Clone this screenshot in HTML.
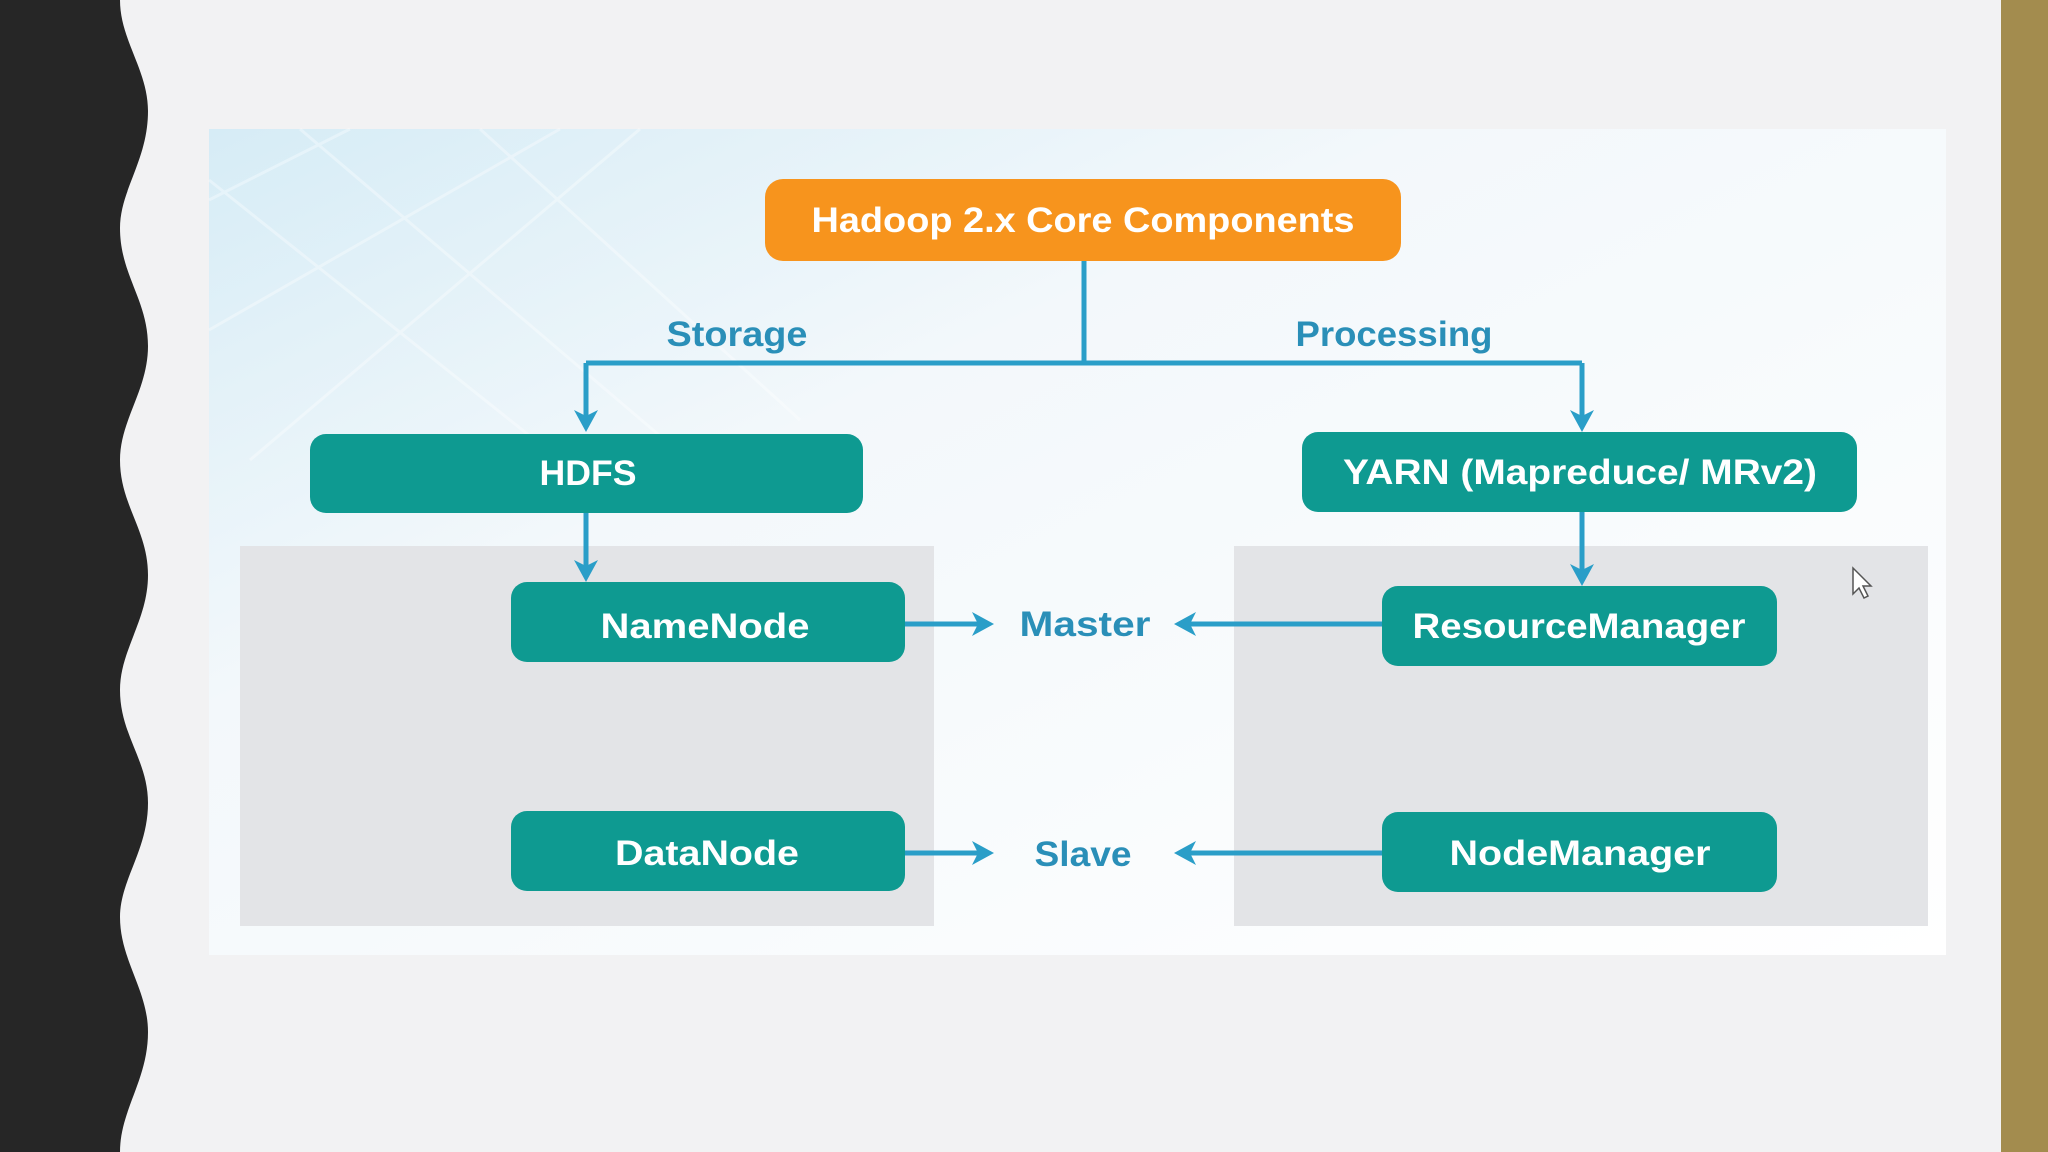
<!DOCTYPE html>
<html><head><meta charset="utf-8"><style>
html,body{margin:0;padding:0;width:2048px;height:1152px;overflow:hidden;background:#f2f2f3;}
svg{display:block}
text{font-family:"Liberation Sans",sans-serif;font-weight:bold;}
</style></head><body>
<svg width="2048" height="1152" viewBox="0 0 2048 1152" xmlns="http://www.w3.org/2000/svg">
<defs>
<linearGradient id="bg" x1="0" y1="0" x2="1" y2="1">
<stop offset="0" stop-color="#d6ecf6"/>
<stop offset="0.35" stop-color="#f3f8fb"/>
<stop offset="1" stop-color="#ffffff"/>
</linearGradient>
</defs>
<rect width="2048" height="1152" fill="#f2f2f3"/>
<path d="M0 0 H120 C120 40 148 70 148 111 C148 160 120 190 120 228 C120 275 148 300 148 346 C148 390 120 420 120 460 C120 505 148 530 148 575 C148 620 120 650 120 690 C120 735 148 760 148 803 C148 850 120 880 120 917 C120 960 148 990 148 1032 C148 1080 120 1110 120 1152 H0 Z" fill="#262626"/>
<rect x="2001" y="0" width="47" height="1152" fill="#a38c4e"/>
<rect x="209" y="129" width="1737" height="826" fill="url(#bg)"/>
<g stroke="#ffffff" stroke-opacity="0.35" stroke-width="3" fill="none">
<path d="M209 200 L350 129 M209 330 L560 129 M250 460 L640 129 M209 180 L560 460 M300 129 L700 470 M480 129 L800 420"/>
</g>
<rect x="240" y="546" width="694" height="380" fill="#e3e4e7"/>
<rect x="1234" y="546" width="694" height="380" fill="#e3e4e7"/>
<g stroke="#2a9ec8" stroke-width="5" fill="none">
<path d="M1084 261 V363 M586 363 H1582 M586 363 V420 M1582 363 V420 M586 513 V570 M1582 512 V574 M905 624 H980 M1382 624 H1186 M905 853 H980 M1382 853 H1186"/>
</g>
<g fill="#2a9ec8">
<path d="M574 410 L586 432 L598 410 L586 416 Z"/>
<path d="M1570 410 L1582 432 L1594 410 L1582 416 Z"/>
<path d="M574 560 L586 582 L598 560 L586 566 Z"/>
<path d="M1570 564 L1582 586 L1594 564 L1582 570 Z"/>
<path d="M972 612 L994 624 L972 636 L978 624 Z"/>
<path d="M1196 612 L1174 624 L1196 636 L1190 624 Z"/>
<path d="M972 841 L994 853 L972 865 L978 853 Z"/>
<path d="M1196 841 L1174 853 L1196 865 L1190 853 Z"/>
</g>
<rect x="765" y="179" width="636" height="82" rx="18" fill="#f7941d"/>
<text x="1083" y="232" font-size="35" fill="#fff" text-anchor="middle" textLength="543" lengthAdjust="spacingAndGlyphs">Hadoop 2.x Core Components</text>
<rect x="310" y="434" width="553" height="79" rx="16" fill="#0e9a91"/>
<text x="588" y="485" font-size="35" fill="#fff" text-anchor="middle" textLength="97" lengthAdjust="spacingAndGlyphs">HDFS</text>
<rect x="1302" y="432" width="555" height="80" rx="16" fill="#0e9a91"/>
<text x="1580" y="484" font-size="35" fill="#fff" text-anchor="middle" textLength="474" lengthAdjust="spacingAndGlyphs">YARN (Mapreduce/ MRv2)</text>
<rect x="511" y="582" width="394" height="80" rx="16" fill="#0e9a91"/>
<text x="705" y="638" font-size="35" fill="#fff" text-anchor="middle" textLength="209" lengthAdjust="spacingAndGlyphs">NameNode</text>
<rect x="511" y="811" width="394" height="80" rx="16" fill="#0e9a91"/>
<text x="707" y="865" font-size="35" fill="#fff" text-anchor="middle" textLength="184" lengthAdjust="spacingAndGlyphs">DataNode</text>
<rect x="1382" y="586" width="395" height="80" rx="16" fill="#0e9a91"/>
<text x="1579" y="638" font-size="35" fill="#fff" text-anchor="middle" textLength="333" lengthAdjust="spacingAndGlyphs">ResourceManager</text>
<rect x="1382" y="812" width="395" height="80" rx="16" fill="#0e9a91"/>
<text x="1580" y="865" font-size="35" fill="#fff" text-anchor="middle" textLength="261" lengthAdjust="spacingAndGlyphs">NodeManager</text>
<text x="737" y="346" font-size="35" fill="#2a8fb8" text-anchor="middle" textLength="141" lengthAdjust="spacingAndGlyphs">Storage</text>
<text x="1394" y="346" font-size="35" fill="#2a8fb8" text-anchor="middle" textLength="197" lengthAdjust="spacingAndGlyphs">Processing</text>
<text x="1085" y="636" font-size="35" fill="#2a8fb8" text-anchor="middle" textLength="131" lengthAdjust="spacingAndGlyphs">Master</text>
<text x="1083" y="866" font-size="35" fill="#2a8fb8" text-anchor="middle" textLength="97" lengthAdjust="spacingAndGlyphs">Slave</text>
<path d="M1853 568 L1853 594 L1859 588 L1864 598 L1868 596 L1863 586 L1871 586 Z" fill="#fff" stroke="#555" stroke-width="1.5"/>
</svg>
</body></html>
